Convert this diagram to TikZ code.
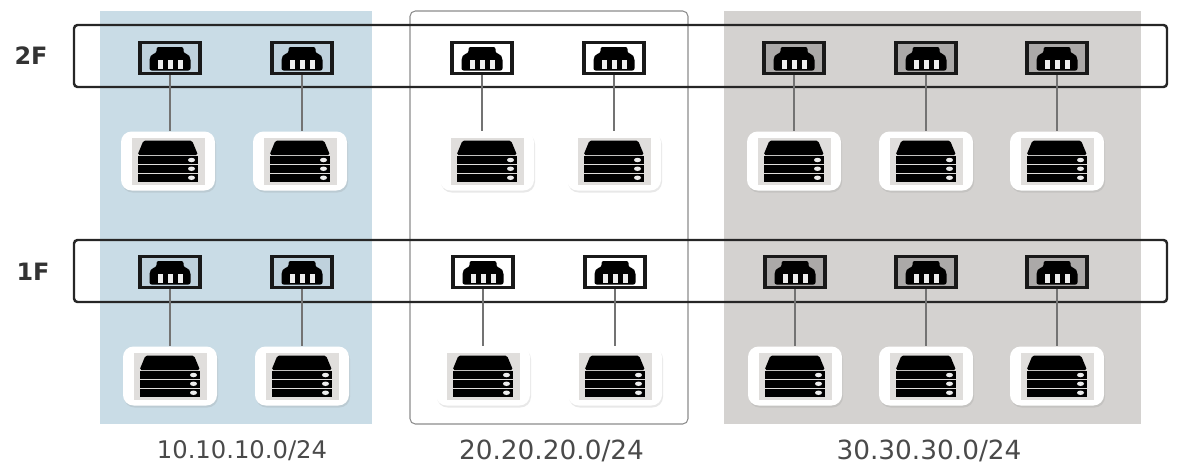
\documentclass[tikz,border=0pt]{standalone}
\usepackage{fontspec}
\usetikzlibrary{shadows}
\setmainfont{DejaVu Sans}
\definecolor{panelblue}{HTML}{C9DCE6}
\definecolor{panelgray}{HTML}{D4D2D0}
\definecolor{portblue}{HTML}{BFD1DC}
\definecolor{portgray}{HTML}{ABA9A8}
\definecolor{patchgray}{HTML}{E0DEDC}
\definecolor{labelgray}{HTML}{4A4A4A}
\tikzset{
	floorbox/.style={draw=black!85, line width=1.4pt, rounded corners=2pt},
	portbox/.style={draw=black!90, line width=1.9pt, minimum width=1.2cm, minimum height=.62cm, inner sep=0pt},
	tile/.style={fill=white, rounded corners=6pt, minimum width=1.88cm, minimum height=1.18cm, inner sep=0pt,
		drop shadow={shadow xshift=.02cm, shadow yshift=-.04cm, opacity=.18}},
	link/.style={draw=black!55, line width=.7pt},
	iplabel/.style={text=labelgray, font=\fontsize{13.8}{16}\selectfont},
	widelabel/.style={text=labelgray, font=\fontsize{15}{16}\selectfont},
	floorlabel/.style={text=black!80, font=\fontsize{13.6}{16}\selectfont\bfseries},
	jack/.pic={
		\fill[black, rounded corners=1.2pt] (-.27,.22) -- (.27,.22) -- (.27,.1) -- (.36,.08) -- (.41,.0) -- (.41,-.25) -- (-.41,-.25) -- (-.41,.0) -- (-.36,.08) -- (-.27,.1) -- cycle;
		\foreach \x in {-.2,0,.2} \fill[white!85!gray] (\x-.05,-.21) rectangle (\x+.05,-.03);
	},
	rack/.pic={
		\fill[patchgray] (-.73,-.47) rectangle (.73,.47);
		\fill[black, rounded corners=1pt] (-.49,.41) -- (.48,.41) -- (.6,.12) -- (-.61,.12) -- cycle;
		\fill[black] (-.61,.1) rectangle (.6,-.06);
		\fill[black] (-.61,-.08) rectangle (.6,-.23);
		\fill[black] (-.61,-.25) rectangle (.6,-.42);
		\foreach \y in {.02,-.155,-.335} \fill[white!85!gray] (.47,\y) ellipse (.07 and .045);
	},
}
\begin{document}
\begin{tikzpicture}
	\useasboundingbox (0,0) rectangle (24.08,9.4);
	% the three subnets
	\fill[panelblue] (2,.92) rectangle (7.44,9.18);
	\draw[draw=black!45, line width=.6pt, rounded corners=3pt] (8.2,.92) rectangle (13.76,9.18);
	\fill[panelgray] (14.48,.92) rectangle (22.82,9.18);
	% floors
	\draw[floorbox] (1.48,7.66) rectangle (23.34,8.9);
	\draw[floorbox] (1.48,3.36) rectangle (23.34,4.6);
	\node[floorlabel] (floortwo) at (.62,8.28) {2F};
	\node[floorlabel] (floorone) at (.66,3.96) {1F};
	% ports and servers
	\foreach \n/\px/\py/\sx/\sy/\col in {
		a/3.4/8.24/3.36/6.18/portblue, b/6.04/8.24/6/6.18/portblue,
		c/9.64/8.24/9.74/6.18/white, d/12.28/8.24/12.28/6.18/white,
		e/15.88/8.24/15.88/6.18/portgray, f/18.52/8.24/18.52/6.18/portgray, g/21.14/8.24/21.14/6.18/portgray,
		h/3.4/3.96/3.4/1.88/portblue, i/6.04/3.96/6.04/1.88/portblue,
		j/9.66/3.96/9.66/1.88/white, k/12.3/3.96/12.3/1.88/white,
		l/15.9/3.96/15.9/1.88/portgray, m/18.52/3.96/18.52/1.88/portgray, n/21.14/3.96/21.14/1.88/portgray}
	{
		\node[portbox, fill=\col] (port\n) at (\px,\py) {};
		\pic at (port\n) {jack};
		\node[tile] (server\n) at (\sx,\sy) {};
		\pic at (server\n) {rack};
		\draw[link] (port\n.south) -- (port\n.south |- server\n.north);
	}
	% subnet labels
	\node[iplabel] (neta) at (4.84,.38) {10.10.10.0/24};
	\node[widelabel] (netb) at (11.03,.38) {20.20.20.0/24};
	\node[widelabel] (netc) at (18.58,.38) {30.30.30.0/24};
\end{tikzpicture}
\end{document}
